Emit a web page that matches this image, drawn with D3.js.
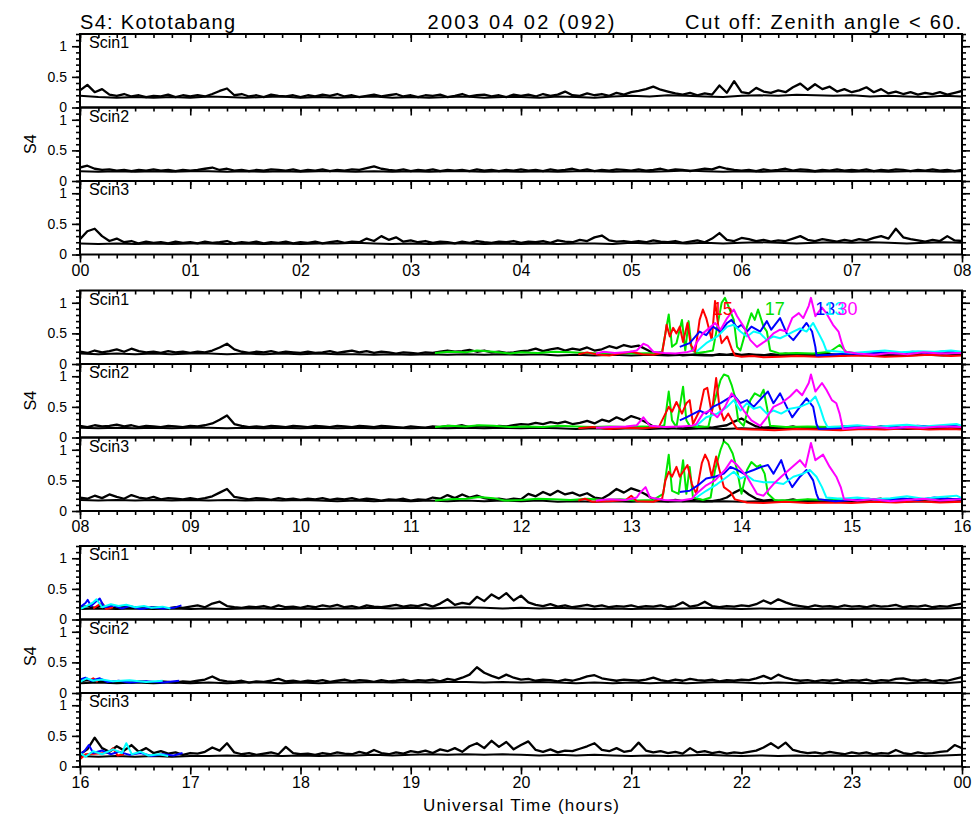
<!DOCTYPE html>
<html><head><meta charset="utf-8">
<script src="https://cdn.jsdelivr.net/npm/d3@7"></script>
<style>
body{margin:0;background:#fff;}
svg text{font-family:"Liberation Sans",Arial,Helvetica,sans-serif;fill:#000;}
</style>
</head><body>
<svg id="c" width="976" height="816"></svg>
<script>
// ---------------- DATA ----------------
const groupStarts = [0, 8, 16];            // UT hour at left edge of each row
const panelNames = ["Scin1", "Scin2", "Scin3"];
const yTickLabels = [[0, "0"], [0.5, "0.5"], [1, "1"]];
const titleLeft = "S4: Kototabang";
const titleMid = "2003 04 02 (092)";
const titleRight = "Cut off: Zenith angle < 60.";
const xTitle = "Universal Time (hours)";
const yTitle = "S4";

// upper black traces, one value every 4 minutes across each 8-hour row
const blackG1S1 = [0.28,0.37,0.25,0.3,0.21,0.19,0.22,0.18,0.2,0.17,0.19,0.18,0.21,0.17,0.2,0.18,
0.2,0.18,0.22,0.27,0.31,0.2,0.22,0.18,0.2,0.17,0.21,0.19,0.18,0.2,0.17,
0.2,0.18,0.21,0.19,0.22,0.18,0.2,0.17,0.19,0.21,0.18,0.2,0.22,0.18,0.2,
0.17,0.2,0.19,0.21,0.17,0.19,0.22,0.18,0.2,0.21,0.18,0.2,0.17,0.21,0.19,
0.21,0.18,0.22,0.19,0.21,0.26,0.2,0.19,0.23,0.2,0.22,0.19,0.24,0.21,0.25,
0.27,0.3,0.34,0.29,0.26,0.23,0.21,0.24,0.2,0.23,0.21,0.36,0.24,0.43,0.25,
0.23,0.32,0.26,0.24,0.28,0.25,0.33,0.39,0.29,0.38,0.3,0.34,0.26,0.3,0.25,
0.28,0.33,0.25,0.3,0.23,0.26,0.22,0.25,0.21,0.24,0.22,0.25,0.21,0.24,0.27];
const blackG1S2 = [0.22,0.25,0.2,0.18,0.19,0.17,0.18,0.16,0.18,0.17,0.19,0.17,0.18,0.16,0.18,0.17,
0.18,0.2,0.22,0.18,0.2,0.17,0.18,0.16,0.18,0.17,0.19,0.18,0.17,0.19,0.16,
0.18,0.17,0.19,0.16,0.18,0.17,0.19,0.18,0.21,0.24,0.2,0.18,0.17,0.19,0.16,
0.18,0.17,0.19,0.16,0.18,0.17,0.18,0.16,0.19,0.17,0.18,0.16,0.18,0.17,0.19,
0.17,0.18,0.16,0.19,0.17,0.18,0.2,0.17,0.19,0.16,0.18,0.17,0.19,0.18,0.17,
0.19,0.17,0.18,0.2,0.17,0.19,0.18,0.16,0.18,0.2,0.19,0.23,0.2,0.18,0.17,
0.18,0.16,0.19,0.17,0.18,0.2,0.17,0.19,0.18,0.16,0.18,0.17,0.19,0.17,0.18,
0.17,0.19,0.16,0.18,0.17,0.19,0.18,0.16,0.18,0.17,0.19,0.17,0.18,0.16,0.18];
const blackG1S3 = [0.25,0.38,0.42,0.3,0.22,0.26,0.2,0.22,0.18,0.21,0.19,0.2,0.18,0.21,0.19,0.2,
0.18,0.21,0.19,0.2,0.22,0.18,0.2,0.19,0.21,0.18,0.2,0.19,0.21,0.18,0.2,
0.19,0.21,0.18,0.2,0.22,0.19,0.21,0.2,0.26,0.22,0.3,0.24,0.28,0.21,0.23,
0.2,0.22,0.19,0.21,0.2,0.18,0.21,0.19,0.22,0.2,0.19,0.21,0.2,0.22,0.19,
0.21,0.2,0.22,0.19,0.23,0.21,0.2,0.24,0.22,0.28,0.31,0.23,0.21,0.22,0.2,
0.22,0.2,0.23,0.21,0.2,0.22,0.19,0.21,0.23,0.2,0.26,0.35,0.24,0.22,0.27,
0.25,0.22,0.24,0.21,0.23,0.22,0.26,0.3,0.24,0.22,0.25,0.23,0.21,0.24,0.22,
0.25,0.23,0.27,0.3,0.26,0.42,0.28,0.25,0.23,0.21,0.24,0.22,0.3,0.23,0.22];
const blackG2S1 = [0.2,0.18,0.22,0.19,0.21,0.24,0.2,0.25,0.21,0.19,0.2,0.18,0.21,0.19,0.2,0.18,
0.2,0.19,0.22,0.27,0.33,0.24,0.2,0.18,0.2,0.19,0.21,0.18,0.2,0.19,0.18,
0.2,0.18,0.19,0.21,0.18,0.2,0.22,0.19,0.21,0.18,0.2,0.19,0.17,0.19,0.18,
0.17,0.19,0.18,0.2,0.22,0.2,0.21,0.23,0.2,0.22,0.19,0.2,0.18,0.19,0.21,
0.22,0.25,0.21,0.24,0.26,0.22,0.25,0.23,0.27,0.22,0.24,0.29,0.26,0.31,0.28,
0.3,0.24,0.18,0.16,0.15,0.16,0.14,0.15,0.16,0.15,0.14,0.16,0.15,0.17,0.15,
0.16,0.15,0.14,0.16,0.15,0.17,0.15,0.14,0.16,0.15,0.17,0.16,0.15,0.14,0.16,
0.15,0.17,0.16,0.18,0.15,0.17,0.16,0.18,0.17,0.15,0.17,0.16,0.18,0.17,0.16];
const blackG2S2 = [0.19,0.17,0.2,0.18,0.19,0.21,0.18,0.2,0.17,0.19,0.18,0.17,0.19,0.18,0.17,0.19,
0.18,0.2,0.23,0.29,0.36,0.22,0.19,0.17,0.18,0.17,0.19,0.18,0.17,0.19,0.18,
0.17,0.19,0.18,0.17,0.19,0.18,0.17,0.19,0.18,0.17,0.19,0.18,0.17,0.16,0.18,
0.17,0.16,0.18,0.17,0.19,0.18,0.2,0.17,0.19,0.18,0.17,0.19,0.18,0.2,0.22,
0.21,0.24,0.22,0.25,0.23,0.26,0.22,0.24,0.27,0.23,0.29,0.26,0.33,0.28,0.35,
0.31,0.25,0.18,0.16,0.15,0.17,0.15,0.16,0.18,0.17,0.16,0.18,0.2,0.26,0.31,
0.24,0.18,0.16,0.17,0.15,0.16,0.18,0.15,0.17,0.16,0.15,0.17,0.16,0.18,0.16,
0.17,0.15,0.16,0.18,0.16,0.17,0.15,0.17,0.16,0.18,0.16,0.17,0.15,0.17,0.16];
const blackG2S3 = [0.22,0.2,0.25,0.21,0.27,0.23,0.2,0.26,0.22,0.2,0.23,0.19,0.21,0.2,0.19,0.21,
0.19,0.21,0.24,0.3,0.36,0.23,0.21,0.19,0.21,0.2,0.18,0.21,0.19,0.2,0.18,
0.2,0.19,0.21,0.18,0.2,0.19,0.21,0.18,0.2,0.19,0.17,0.19,0.18,0.2,0.17,
0.19,0.18,0.22,0.2,0.26,0.21,0.27,0.22,0.25,0.21,0.19,0.2,0.18,0.2,0.19,
0.28,0.24,0.31,0.26,0.33,0.27,0.3,0.25,0.29,0.22,0.2,0.27,0.36,0.3,0.37,
0.33,0.27,0.19,0.17,0.16,0.18,0.16,0.17,0.19,0.17,0.16,0.18,0.22,0.3,0.36,
0.27,0.2,0.17,0.18,0.16,0.17,0.19,0.16,0.18,0.17,0.16,0.18,0.17,0.19,0.17,
0.18,0.16,0.19,0.2,0.17,0.19,0.18,0.2,0.17,0.19,0.21,0.18,0.2,0.19,0.17];
const blackG3S1 = [0.2,0.22,0.19,0.23,0.2,0.18,0.21,0.19,0.2,0.18,0.2,0.19,0.18,0.2,0.19,0.21,
0.23,0.2,0.26,0.29,0.22,0.2,0.19,0.21,0.2,0.22,0.19,0.23,0.2,0.21,0.19,
0.22,0.2,0.23,0.21,0.24,0.2,0.22,0.19,0.23,0.21,0.2,0.22,0.24,0.21,0.23,
0.22,0.25,0.21,0.26,0.33,0.24,0.27,0.25,0.37,0.3,0.41,0.34,0.43,0.31,0.39,
0.28,0.24,0.22,0.25,0.21,0.23,0.2,0.22,0.24,0.21,0.23,0.2,0.22,0.21,0.23,
0.2,0.22,0.21,0.23,0.2,0.22,0.28,0.21,0.23,0.29,0.22,0.2,0.22,0.21,0.23,
0.22,0.25,0.31,0.26,0.33,0.28,0.24,0.22,0.2,0.23,0.21,0.22,0.2,0.23,0.21,
0.22,0.2,0.23,0.21,0.22,0.24,0.2,0.22,0.21,0.23,0.2,0.22,0.21,0.24,0.26];
const blackG3S2 = [0.19,0.21,0.18,0.2,0.17,0.19,0.18,0.17,0.19,0.18,0.17,0.19,0.18,0.17,0.19,0.18,
0.2,0.22,0.27,0.21,0.19,0.18,0.2,0.17,0.19,0.18,0.2,0.23,0.19,0.2,0.18,
0.2,0.19,0.21,0.18,0.2,0.22,0.19,0.21,0.2,0.18,0.21,0.19,0.2,0.22,0.19,
0.21,0.2,0.22,0.19,0.23,0.21,0.25,0.3,0.42,0.33,0.28,0.24,0.3,0.25,0.22,
0.23,0.2,0.22,0.21,0.19,0.22,0.2,0.23,0.27,0.29,0.24,0.22,0.2,0.22,0.21,
0.2,0.22,0.25,0.21,0.19,0.22,0.2,0.23,0.21,0.2,0.22,0.19,0.21,0.2,0.22,
0.21,0.24,0.28,0.23,0.3,0.25,0.22,0.2,0.21,0.19,0.21,0.2,0.22,0.19,0.21,
0.2,0.22,0.19,0.21,0.2,0.23,0.24,0.21,0.2,0.22,0.19,0.21,0.2,0.23,0.26];
const blackG3S3 = [0.2,0.28,0.47,0.3,0.24,0.33,0.26,0.35,0.24,0.3,0.22,0.25,0.21,0.23,0.19,0.22,
0.21,0.24,0.31,0.26,0.38,0.23,0.2,0.22,0.19,0.21,0.23,0.2,0.32,0.22,0.2,
0.21,0.19,0.22,0.2,0.23,0.21,0.2,0.24,0.21,0.27,0.22,0.2,0.23,0.21,0.25,
0.23,0.26,0.22,0.28,0.25,0.3,0.24,0.33,0.38,0.3,0.42,0.32,0.4,0.28,0.35,
0.41,0.27,0.24,0.28,0.23,0.26,0.25,0.29,0.33,0.38,0.27,0.25,0.3,0.24,0.26,
0.39,0.26,0.23,0.25,0.22,0.24,0.21,0.3,0.23,0.25,0.22,0.24,0.21,0.23,0.22,
0.24,0.26,0.31,0.38,0.3,0.39,0.27,0.24,0.22,0.23,0.21,0.24,0.22,0.2,0.23,
0.21,0.23,0.2,0.22,0.21,0.27,0.22,0.2,0.23,0.21,0.22,0.24,0.25,0.35,0.3];

// lower black traces (quiet satellites), one value every 10 minutes
const floorG1S1 = [0.19,0.17,0.16,0.17,0.16,0.17,0.16,0.18,0.17,0.16,0.17,0.18,0.16,0.17,0.16,0.17,0.18,0.16,0.17,0.16,0.17,0.18,0.16,0.17,0.17,0.16,0.18,0.17,0.16,0.18,0.19,0.18,0.2,0.19,0.18,0.17,0.19,0.2,0.19,0.21,0.2,0.19,0.2,0.18,0.19,0.18,0.17,0.19,0.18];
const floorG1S2 = [0.16,0.15,0.16,0.15,0.16,0.15,0.16,0.16,0.15,0.16,0.15,0.16,0.15,0.16,0.16,0.15,0.16,0.15,0.16,0.15,0.16,0.16,0.15,0.16,0.15,0.16,0.15,0.16,0.16,0.15,0.16,0.15,0.16,0.17,0.16,0.15,0.16,0.15,0.16,0.16,0.15,0.16,0.15,0.16,0.15,0.16,0.16,0.15,0.16];
const floorG1S3 = [0.18,0.17,0.18,0.17,0.18,0.17,0.18,0.18,0.17,0.18,0.17,0.18,0.17,0.18,0.18,0.19,0.18,0.17,0.18,0.17,0.18,0.18,0.17,0.18,0.17,0.18,0.17,0.18,0.18,0.17,0.19,0.18,0.19,0.18,0.19,0.18,0.19,0.2,0.19,0.18,0.19,0.2,0.19,0.2,0.19,0.18,0.19,0.2,0.19];
const floorG2S1 = [0.17,0.16,0.17,0.16,0.17,0.16,0.17,0.17,0.16,0.17,0.16,0.17,0.16,0.17,0.16,0.16,0.15,0.16,0.15,0.16,0.15,0.16,0.15,0.16,0.15,0.16,0.14,0.15,0.14,0.15,0.14,0.15,0.14,0.15,0.14,0.15,0.14,0.15,0.14,0.15,0.14,0.15,0.15,0.14,0.15,0.14,0.15,0.14,0.15];
const floorG2S2 = [0.16,0.15,0.16,0.15,0.16,0.15,0.16,0.16,0.15,0.16,0.15,0.16,0.15,0.16,0.15,0.16,0.15,0.16,0.15,0.16,0.15,0.16,0.15,0.16,0.15,0.16,0.15,0.14,0.15,0.14,0.15,0.14,0.15,0.14,0.15,0.14,0.15,0.14,0.15,0.14,0.15,0.14,0.15,0.14,0.15,0.14,0.15,0.14,0.15];
const floorG2S3 = [0.18,0.17,0.18,0.17,0.18,0.17,0.18,0.17,0.18,0.17,0.18,0.17,0.18,0.17,0.16,0.17,0.16,0.17,0.16,0.17,0.16,0.17,0.16,0.17,0.16,0.17,0.15,0.16,0.15,0.16,0.15,0.16,0.15,0.16,0.15,0.16,0.15,0.16,0.15,0.16,0.15,0.16,0.16,0.15,0.16,0.15,0.16,0.15,0.16];
const floorG3S1 = [0.17,0.18,0.17,0.18,0.17,0.18,0.17,0.18,0.17,0.18,0.18,0.17,0.18,0.17,0.18,0.18,0.19,0.18,0.19,0.18,0.19,0.2,0.19,0.18,0.19,0.18,0.19,0.18,0.17,0.18,0.17,0.18,0.17,0.18,0.19,0.18,0.17,0.18,0.17,0.18,0.17,0.18,0.17,0.18,0.17,0.18,0.17,0.18,0.19];
const floorG3S2 = [0.16,0.17,0.16,0.17,0.16,0.17,0.16,0.17,0.16,0.17,0.17,0.16,0.17,0.16,0.17,0.17,0.18,0.17,0.18,0.17,0.18,0.18,0.17,0.18,0.17,0.18,0.17,0.16,0.17,0.16,0.17,0.16,0.17,0.16,0.17,0.18,0.17,0.16,0.17,0.16,0.17,0.16,0.17,0.16,0.17,0.16,0.17,0.16,0.18];
const floorG3S3 = [0.17,0.16,0.17,0.16,0.17,0.16,0.17,0.17,0.18,0.17,0.18,0.17,0.18,0.17,0.18,0.18,0.19,0.18,0.19,0.2,0.19,0.2,0.19,0.2,0.19,0.18,0.19,0.18,0.19,0.18,0.17,0.18,0.17,0.18,0.19,0.18,0.17,0.18,0.17,0.18,0.17,0.18,0.17,0.18,0.17,0.18,0.17,0.18,0.19];

// coloured satellite traces, [UT hour, S4]
const greenG2S1 = [[11.22,0.18],[11.35,0.2],[11.5,0.19],[11.6,0.22],[11.75,0.2],[11.9,0.17],[12.0,0.19],[12.15,0.18],[12.3,0.2],[12.45,0.19],[12.6,0.18],[12.75,0.17],[12.9,0.18],[13.05,0.17],[13.2,0.18],[13.28,0.2],[13.34,0.81],[13.37,0.28],[13.41,0.34],[13.46,0.72],[13.49,0.22],[13.52,0.7],[13.55,0.22],[13.6,0.18],[13.68,0.2],[13.74,0.22],[13.78,0.61],[13.82,1.0],[13.85,1.08],[13.88,0.95],[13.93,0.72],[13.96,0.28],[13.99,0.22],[14.05,0.61],[14.09,0.83],[14.12,0.72],[14.15,0.89],[14.2,0.61],[14.23,0.53],[14.26,0.22],[14.35,0.17],[14.5,0.18],[14.65,0.17],[14.8,0.2],[14.89,0.31],[14.95,0.2],[15.05,0.17]];
const redG2S1 = [[12.52,0.16],[12.6,0.19],[12.7,0.15],[12.8,0.14],[12.9,0.17],[13.0,0.2],[13.1,0.16],[13.2,0.15],[13.28,0.18],[13.31,0.5],[13.32,0.64],[13.35,0.45],[13.38,0.59],[13.41,0.5],[13.44,0.61],[13.47,0.36],[13.51,0.67],[13.54,0.31],[13.58,0.2],[13.62,0.72],[13.65,0.89],[13.68,0.75],[13.73,0.39],[13.76,1.03],[13.79,0.61],[13.82,0.34],[13.87,0.45],[13.91,0.25],[13.94,0.14],[14.0,0.12],[14.1,0.13],[14.2,0.11],[14.35,0.12],[14.5,0.13],[14.7,0.12],[14.9,0.13],[15.1,0.14],[15.3,0.12],[15.5,0.13],[15.7,0.15],[15.9,0.13],[16.0,0.14]];
const blueG2S1 = [[13.44,0.28],[13.53,0.34],[13.62,0.53],[13.68,0.47],[13.74,0.61],[13.81,0.53],[13.87,0.67],[13.91,0.72],[13.96,0.59],[14.0,0.64],[14.05,0.53],[14.09,0.61],[14.17,0.53],[14.23,0.7],[14.27,0.56],[14.35,0.75],[14.41,0.5],[14.47,0.39],[14.53,0.53],[14.59,0.67],[14.64,0.53],[14.67,0.28],[14.68,0.14],[14.8,0.15],[14.95,0.17],[15.1,0.16],[15.25,0.19],[15.4,0.17],[15.55,0.2],[15.7,0.18],[15.85,0.21],[16.0,0.19]];
const cyanG2S1 = [[13.59,0.2],[13.68,0.34],[13.78,0.45],[13.87,0.61],[13.93,0.64],[13.99,0.53],[14.05,0.45],[14.11,0.53],[14.17,0.5],[14.23,0.39],[14.29,0.45],[14.35,0.42],[14.41,0.47],[14.47,0.53],[14.53,0.58],[14.59,0.53],[14.65,0.67],[14.7,0.5],[14.74,0.36],[14.77,0.22],[14.9,0.2],[15.0,0.18],[15.15,0.2],[15.3,0.22],[15.45,0.19],[15.6,0.21],[15.75,0.2],[15.9,0.22],[16.0,0.2]];
const magentaG2S1 = [[12.68,0.17],[12.75,0.2],[12.85,0.18],[12.95,0.19],[13.05,0.22],[13.11,0.33],[13.15,0.3],[13.2,0.2],[13.3,0.18],[13.4,0.17],[13.5,0.19],[13.56,0.22],[13.59,0.34],[13.65,0.5],[13.71,0.59],[13.76,0.67],[13.81,0.56],[13.87,0.75],[13.93,0.89],[13.96,0.78],[14.02,0.61],[14.08,0.39],[14.14,0.28],[14.23,0.39],[14.29,0.5],[14.35,0.56],[14.41,0.53],[14.46,0.75],[14.52,0.83],[14.56,0.75],[14.61,0.95],[14.63,1.08],[14.67,0.78],[14.73,0.92],[14.77,0.83],[14.83,0.64],[14.88,0.53],[14.91,0.34],[14.94,0.2],[15.05,0.17],[15.2,0.15],[15.35,0.18],[15.5,0.16],[15.65,0.19],[15.8,0.17],[16.0,0.18]];

const greenG2S2 = [[11.22,0.17],[11.35,0.19],[11.5,0.18],[11.62,0.2],[11.75,0.19],[11.9,0.17],[12.05,0.18],[12.2,0.17],[12.35,0.19],[12.5,0.18],[12.65,0.17],[12.8,0.18],[12.95,0.17],[13.1,0.18],[13.25,0.17],[13.3,0.2],[13.34,0.75],[13.37,0.28],[13.41,0.17],[13.47,0.83],[13.5,0.28],[13.53,0.19],[13.6,0.17],[13.7,0.18],[13.74,0.5],[13.81,0.94],[13.84,1.03],[13.88,1.0],[13.91,0.86],[13.94,0.67],[13.97,0.28],[14.02,0.19],[14.08,0.61],[14.12,0.72],[14.17,0.67],[14.2,0.78],[14.23,0.5],[14.26,0.19],[14.4,0.17],[14.6,0.18],[14.8,0.17],[15.0,0.18]];
const redG2S2 = [[12.52,0.15],[12.65,0.17],[12.8,0.14],[12.95,0.16],[13.1,0.15],[13.25,0.17],[13.31,0.39],[13.34,0.5],[13.37,0.42],[13.41,0.58],[13.46,0.39],[13.5,0.56],[13.53,0.61],[13.56,0.22],[13.62,0.44],[13.66,0.78],[13.69,0.81],[13.73,0.39],[13.77,0.97],[13.8,0.5],[13.84,0.28],[13.88,0.39],[13.93,0.22],[13.96,0.14],[14.1,0.13],[14.3,0.12],[14.5,0.14],[14.7,0.13],[14.9,0.12],[15.1,0.14],[15.3,0.13],[15.5,0.15],[15.7,0.13],[15.9,0.14],[16.0,0.13]];
const blueG2S2 = [[13.44,0.28],[13.5,0.33],[13.62,0.44],[13.68,0.39],[13.74,0.5],[13.81,0.56],[13.88,0.64],[13.93,0.69],[13.99,0.56],[14.05,0.61],[14.11,0.5],[14.18,0.64],[14.24,0.75],[14.29,0.56],[14.35,0.72],[14.41,0.5],[14.46,0.33],[14.53,0.5],[14.59,0.64],[14.65,0.5],[14.68,0.22],[14.7,0.14],[14.85,0.15],[15.0,0.17],[15.15,0.16],[15.3,0.18],[15.45,0.16],[15.6,0.19],[15.75,0.17],[15.9,0.19],[16.0,0.18]];
const cyanG2S2 = [[13.59,0.19],[13.68,0.33],[13.78,0.39],[13.87,0.5],[13.93,0.61],[13.99,0.44],[14.05,0.56],[14.11,0.47],[14.17,0.5],[14.23,0.39],[14.29,0.44],[14.36,0.39],[14.44,0.47],[14.53,0.5],[14.61,0.56],[14.67,0.67],[14.71,0.5],[14.75,0.28],[14.78,0.17],[14.9,0.18],[15.05,0.2],[15.2,0.17],[15.35,0.19],[15.5,0.21],[15.65,0.18],[15.8,0.2],[15.95,0.22],[16.0,0.19]];
const magentaG2S2 = [[12.68,0.16],[12.8,0.17],[12.95,0.18],[13.05,0.2],[13.11,0.33],[13.17,0.19],[13.3,0.17],[13.45,0.18],[13.55,0.19],[13.59,0.22],[13.65,0.39],[13.71,0.44],[13.78,0.33],[13.85,0.5],[13.91,0.72],[13.96,0.61],[14.02,0.44],[14.09,0.28],[14.17,0.19],[14.23,0.33],[14.29,0.5],[14.36,0.56],[14.44,0.67],[14.5,0.78],[14.55,0.69],[14.61,0.89],[14.63,1.03],[14.67,0.75],[14.73,0.89],[14.77,0.78],[14.82,0.61],[14.86,0.56],[14.89,0.39],[14.92,0.14],[15.05,0.16],[15.2,0.17],[15.35,0.15],[15.5,0.17],[15.65,0.16],[15.8,0.18],[16.0,0.17]];

const greenG2S3 = [[11.22,0.17],[11.35,0.19],[11.5,0.2],[11.62,0.23],[11.75,0.21],[11.85,0.17],[12.0,0.18],[12.15,0.2],[12.3,0.19],[12.45,0.18],[12.6,0.2],[12.75,0.18],[12.9,0.19],[13.05,0.17],[13.2,0.18],[13.29,0.28],[13.34,0.92],[13.37,0.33],[13.43,0.28],[13.47,0.83],[13.5,0.28],[13.53,0.72],[13.56,0.22],[13.65,0.18],[13.72,0.22],[13.76,0.67],[13.81,1.0],[13.84,1.14],[13.88,1.08],[13.92,0.94],[13.96,0.67],[14.0,0.28],[14.05,0.67],[14.09,0.8],[14.14,0.72],[14.17,0.75],[14.21,0.61],[14.24,0.28],[14.3,0.18],[14.45,0.17],[14.6,0.19],[14.75,0.18],[14.9,0.2],[15.0,0.18]];
const redG2S3 = [[12.52,0.17],[12.58,0.2],[12.65,0.15],[12.8,0.16],[12.95,0.18],[13.0,0.25],[13.05,0.16],[13.2,0.15],[13.28,0.2],[13.31,0.5],[13.34,0.64],[13.37,0.56],[13.41,0.72],[13.44,0.56],[13.51,0.75],[13.55,0.44],[13.59,0.28],[13.64,0.78],[13.67,0.92],[13.7,0.81],[13.73,0.56],[13.77,0.89],[13.8,0.67],[13.84,0.39],[13.9,0.31],[13.94,0.19],[14.05,0.14],[14.2,0.13],[14.4,0.15],[14.6,0.13],[14.8,0.14],[15.0,0.13],[15.2,0.15],[15.4,0.14],[15.6,0.16],[15.8,0.14],[16.0,0.15]];
const blueG2S3 = [[13.44,0.31],[13.53,0.33],[13.62,0.44],[13.68,0.53],[13.76,0.56],[13.84,0.61],[13.9,0.72],[13.96,0.67],[14.02,0.61],[14.11,0.67],[14.18,0.72],[14.24,0.75],[14.29,0.61],[14.36,0.83],[14.41,0.56],[14.46,0.39],[14.53,0.56],[14.59,0.67],[14.65,0.5],[14.68,0.28],[14.7,0.19],[14.85,0.16],[15.0,0.18],[15.15,0.2],[15.3,0.17],[15.45,0.21],[15.6,0.18],[15.75,0.22],[15.9,0.19],[16.0,0.2]];
const cyanG2S3 = [[13.59,0.22],[13.68,0.33],[13.78,0.44],[13.87,0.56],[13.93,0.64],[13.99,0.53],[14.05,0.58],[14.11,0.5],[14.2,0.47],[14.29,0.47],[14.38,0.44],[14.47,0.56],[14.56,0.61],[14.62,0.67],[14.68,0.56],[14.73,0.39],[14.77,0.22],[14.9,0.2],[15.05,0.22],[15.2,0.19],[15.35,0.21],[15.5,0.24],[15.65,0.2],[15.8,0.23],[15.95,0.25],[16.0,0.21]];
const magentaG2S3 = [[12.68,0.17],[12.8,0.19],[12.95,0.18],[13.05,0.22],[13.08,0.3],[13.13,0.39],[13.17,0.22],[13.3,0.18],[13.45,0.17],[13.55,0.2],[13.59,0.28],[13.68,0.42],[13.76,0.5],[13.85,0.67],[13.91,0.83],[13.96,0.75],[14.05,0.56],[14.14,0.28],[14.2,0.25],[14.29,0.44],[14.36,0.56],[14.46,0.72],[14.53,0.83],[14.58,0.72],[14.63,1.11],[14.67,0.83],[14.74,0.92],[14.8,0.72],[14.86,0.56],[14.9,0.39],[14.93,0.19],[15.05,0.17],[15.2,0.19],[15.35,0.16],[15.5,0.18],[15.65,0.2],[15.8,0.17],[16.0,0.19]];

const blueG3S1 = [[16.0,0.2],[16.05,0.27],[16.07,0.32],[16.1,0.22],[16.15,0.3],[16.18,0.34],[16.22,0.2],[16.3,0.23],[16.38,0.18],[16.45,0.22],[16.55,0.17],[16.65,0.2],[16.75,0.18],[16.85,0.19],[16.92,0.23]];
const cyanG3S1 = [[16.0,0.17],[16.06,0.22],[16.12,0.28],[16.15,0.33],[16.2,0.2],[16.28,0.25],[16.35,0.22],[16.42,0.24],[16.5,0.2],[16.58,0.22],[16.65,0.19],[16.75,0.21],[16.82,0.18]];
const redG3S1 = [[16.12,0.18],[16.17,0.24],[16.2,0.27],[16.24,0.17],[16.3,0.2]];
const blueG3S2 = [[16.0,0.22],[16.05,0.25],[16.1,0.2],[16.18,0.24],[16.25,0.18],[16.35,0.2],[16.45,0.17],[16.6,0.19],[16.75,0.17],[16.9,0.2]];
const cyanG3S2 = [[16.0,0.18],[16.06,0.24],[16.12,0.2],[16.2,0.22],[16.3,0.19],[16.45,0.21],[16.6,0.18],[16.75,0.2]];
const redG3S2 = [[16.08,0.2],[16.12,0.24],[16.16,0.18]];
const blueG3S3 = [[16.0,0.2],[16.04,0.25],[16.08,0.35],[16.12,0.22],[16.2,0.26],[16.28,0.2],[16.35,0.24],[16.45,0.19],[16.55,0.22],[16.65,0.17],[16.75,0.2],[16.85,0.18],[16.93,0.22]];
const cyanG3S3 = [[16.0,0.22],[16.05,0.16],[16.12,0.25],[16.2,0.2],[16.3,0.28],[16.38,0.22],[16.42,0.38],[16.47,0.2],[16.55,0.24],[16.62,0.18],[16.72,0.2],[16.8,0.17]];
const redG3S3 = [[16.0,0.12],[16.05,0.2],[16.25,0.22],[16.3,0.3],[16.34,0.18],[16.4,0.2]];

// PRN labels in row 2, Scin1 panel: [text, colour, UT hour, S4]
const prnLabels = [["15","#ff0000",13.74,0.8],["17","#00e000",14.21,0.8],["13","#0000ff",14.67,0.8],["13","#00ffff",14.75,0.8],["30","#ff00ff",14.87,0.8]];

const RED="#ff0000", GREEN="#00e600", BLUE="#0000ff", CYAN="#00ffff", MAGENTA="#ff00ff";
const rows = [
  [{black:blackG1S1,floor:floorG1S1,col:[]},{black:blackG1S2,floor:floorG1S2,col:[]},{black:blackG1S3,floor:floorG1S3,col:[]}],
  [{black:blackG2S1,floor:floorG2S1,col:[[GREEN,greenG2S1],[RED,redG2S1],[BLUE,blueG2S1],[CYAN,cyanG2S1],[MAGENTA,magentaG2S1]]},
   {black:blackG2S2,floor:floorG2S2,col:[[GREEN,greenG2S2],[RED,redG2S2],[BLUE,blueG2S2],[CYAN,cyanG2S2],[MAGENTA,magentaG2S2]]},
   {black:blackG2S3,floor:floorG2S3,col:[[GREEN,greenG2S3],[RED,redG2S3],[BLUE,blueG2S3],[CYAN,cyanG2S3],[MAGENTA,magentaG2S3]]}],
  [{black:blackG3S1,floor:floorG3S1,col:[[RED,redG3S1],[BLUE,blueG3S1],[CYAN,cyanG3S1]]},
   {black:blackG3S2,floor:floorG3S2,col:[[RED,redG3S2],[BLUE,blueG3S2],[CYAN,cyanG3S2]]},
   {black:blackG3S3,floor:floorG3S3,col:[[RED,redG3S3],[BLUE,blueG3S3],[CYAN,cyanG3S3]]}]
];

// ---------------- DRAW ----------------
const svg = d3.select("#c");
const X0 = 80, X1 = 962;
const rowTop = [34, 290.5, 546];
const PH = 73.5;
const FONT = '"Liberation Sans",Arial,sans-serif';

function styleAxis(g, fs){
  g.select(".domain").remove();
  g.selectAll("line").attr("stroke","#000").attr("stroke-width",1.6);
  g.selectAll("text").attr("font-family",FONT).attr("font-size",fs).attr("fill","#000");
}

rows.forEach((row, ri) => {
  const start = groupStarts[ri];
  const x = d3.scaleLinear().domain([start, start + 8]).range([X0, X1]);
  const minorX = d3.range(0, 49).map(k => start + k / 6);
  const majorX = d3.range(0, 9).map(k => start + k);
  row.forEach((p, pi) => {
    const top = rowTop[ri] + pi * PH, bot = top + PH;
    const y = d3.scaleLinear().domain([0, 1.2]).range([bot, top]);
    const line = d3.line().x(d => x(d[0])).y(d => y(d[1]));
    const clipId = `clip${ri}${pi}`;
    svg.append("clipPath").attr("id", clipId).append("rect")
      .attr("x", X0).attr("y", top - 6).attr("width", X1 - X0).attr("height", PH + 6);
    const gp = svg.append("g").attr("clip-path", `url(#${clipId})`);
    const toPts = arr => arr.map((v, i) => [start + i * 8 / (arr.length - 1), v]);
    gp.append("path").datum(toPts(p.floor)).attr("d", line)
      .attr("fill", "none").attr("stroke", "#000").attr("stroke-width", 2).attr("stroke-linejoin","round");
    gp.append("path").datum(toPts(p.black)).attr("d", line)
      .attr("fill", "none").attr("stroke", "#000").attr("stroke-width", 2.3).attr("stroke-linejoin","round");
    p.col.forEach(([c, data]) => {
      gp.append("path").datum(data).attr("d", line)
        .attr("fill", "none").attr("stroke", c).attr("stroke-width", 2).attr("stroke-linejoin","round");
    });
    // frame
    svg.append("rect").attr("x", X0).attr("y", top).attr("width", X1 - X0).attr("height", PH)
      .attr("fill", "none").attr("stroke", "#000").attr("stroke-width", 2);
    // x ticks at top edge (pointing down)
    svg.append("g").attr("transform", `translate(0,${top})`)
      .call(d3.axisBottom(x).tickValues(minorX).tickSize(4).tickFormat(""))
      .call(g => styleAxis(g, 16));
    svg.append("g").attr("transform", `translate(0,${top})`)
      .call(d3.axisBottom(x).tickValues(majorX).tickSize(8).tickFormat(""))
      .call(g => styleAxis(g, 16));
    if (pi === 2) {
      svg.append("g").attr("transform", `translate(0,${bot})`)
        .call(d3.axisBottom(x).tickValues(minorX).tickSize(4).tickFormat(""))
        .call(g => styleAxis(g, 16));
      svg.append("g").attr("transform", `translate(0,${bot})`)
        .call(d3.axisBottom(x).tickValues(majorX).tickSize(8).tickPadding(2)
          .tickFormat(d => String(Math.round(d) % 24).padStart(2, "0")))
        .call(g => styleAxis(g, 16));
    }
    // y ticks left & right
    const minorY = d3.range(0, 13).map(k => k / 10);
    const majorY = yTickLabels.map(d => d[0]);
    svg.append("g").attr("transform", `translate(${X0},0)`)
      .call(d3.axisLeft(y).tickValues(minorY).tickSize(4).tickFormat(""))
      .call(g => styleAxis(g, 14));
    svg.append("g").attr("transform", `translate(${X0},0)`)
      .call(d3.axisLeft(y).tickValues(majorY).tickSize(8).tickPadding(5)
        .tickFormat(d => yTickLabels.find(t => t[0] === d)[1]))
      .call(g => styleAxis(g, 14));
    svg.append("g").attr("transform", `translate(${X1},0)`)
      .call(d3.axisRight(y).tickValues(minorY).tickSize(4).tickFormat(""))
      .call(g => styleAxis(g, 14));
    svg.append("g").attr("transform", `translate(${X1},0)`)
      .call(d3.axisRight(y).tickValues(majorY).tickSize(8).tickFormat(""))
      .call(g => styleAxis(g, 14));
    // panel name
    svg.append("text").attr("x", X0 + 9).attr("y", top + 14)
      .attr("font-size", 16).text(panelNames[pi]);
    if (pi === 1) {
      svg.append("text").attr("transform", `translate(36,${(top + bot) / 2}) rotate(-90)`)
        .attr("text-anchor", "middle").attr("font-size", 16).text(yTitle);
    }
    if (ri === 1 && pi === 0) {
      prnLabels.forEach(([t, c, h, v]) => {
        svg.append("text").attr("x", x(h)).attr("y", y(v)).attr("font-size", 18)
          .style("fill", c).text(t);
      });
    }
  });
});

svg.append("text").attr("x", X0).attr("y", 29).attr("font-size", 20)
  .attr("textLength", 155).attr("lengthAdjust", "spacing").text(titleLeft);
svg.append("text").attr("x", 521).attr("y", 29).attr("font-size", 20).attr("text-anchor", "middle")
  .attr("textLength", 187).attr("lengthAdjust", "spacing").text(titleMid);
svg.append("text").attr("x", 961).attr("y", 29).attr("font-size", 20).attr("text-anchor", "end")
  .attr("textLength", 276).attr("lengthAdjust", "spacing").text(titleRight);
svg.append("text").attr("x", 521).attr("y", 811).attr("font-size", 17).attr("text-anchor", "middle")
  .attr("textLength", 196).attr("lengthAdjust", "spacing").text(xTitle);
</script>
</body></html>
